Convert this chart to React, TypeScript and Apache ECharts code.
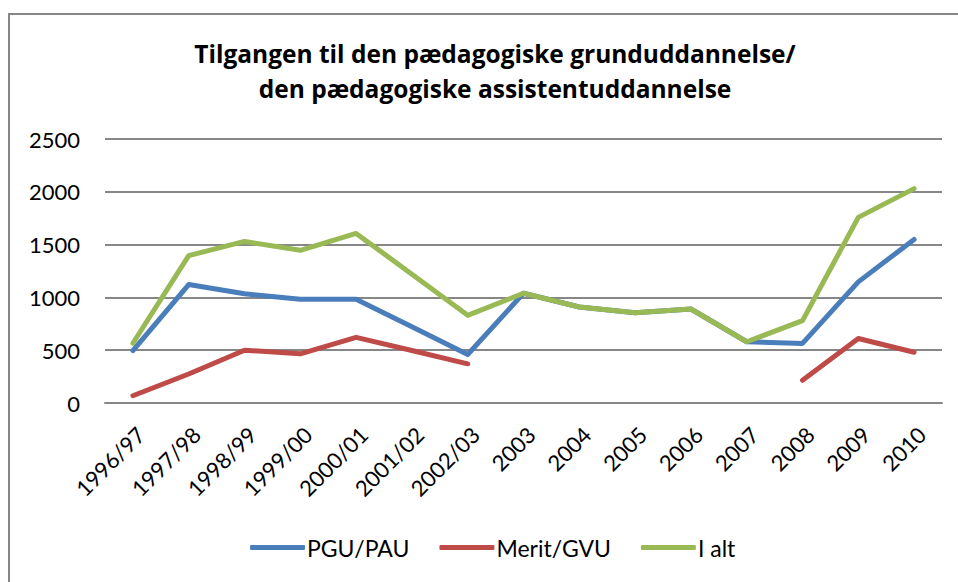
import React, { useEffect, useRef } from "react";
import * as echarts from "echarts";

const categories = ["1996/97", "1997/98", "1998/99", "1999/00", "2000/01", "2001/02", "2002/03", "2003", "2004", "2005", "2006", "2007", "2008", "2009", "2010"];
const pguPau = [497, 1122, 1034, 982, 982, 722, 459, 1039, 909, 855, 890, 580, 564, 1147, 1549];
const meritGvu = [69, 275, 500, 466, 622, 497, 371, null, null, null, null, null, 215, 611, 481];
const iAlt = [566, 1396, 1530, 1446, 1606, 1220, 830, 1039, 909, 855, 890, 580, 780, 1758, 2030];
const yTicks = [0, 500, 1000, 1500, 2000, 2500];

const FONT = "Lato, 'Open Sans', sans-serif";
const TITLE_FONT = "'Open Sans', Lato, sans-serif";

export default function App() {
  const ref = useRef<HTMLDivElement>(null);
  useEffect(() => {
    if (!ref.current) return;
    const chart = echarts.init(ref.current, undefined, { renderer: "svg" });
    chart.setOption({
      animation: false,
      backgroundColor: "#ffffff",
      textStyle: { fontFamily: FONT },
      title: {
        text: "Tilgangen til den pædagogiske grunduddannelse/\nden pædagogiske assistentuddannelse",
        left: 490,
        top: 31,
        textAlign: "center",
        textStyle: { fontFamily: TITLE_FONT, fontWeight: "bold", fontSize: 24.5, lineHeight: 35, color: "#000" },
      },
      graphic: [
        {
          type: "rect",
          shape: { x: 9, y: 14, width: 1000, height: 700 },
          style: { fill: "none", stroke: "#878787", lineWidth: 2 },
          silent: true,
          z: -1,
        },
      ],
      legend: {
        bottom: 18,
        left: 245,
        itemWidth: 55,
        itemHeight: 5,
        itemGap: 30,
        icon: "roundRect",
        textStyle: { fontFamily: FONT, fontSize: 23, color: "#000", padding: [0, 0, 0, -3] },
        data: ["PGU/PAU", "Merit/GVU", "I alt"],
      },
      grid: { left: 105, top: 139, width: 837, height: 264, containLabel: false },
      xAxis: {
        type: "category",
        data: categories,
        boundaryGap: true,
        axisLine: { lineStyle: { color: "#878787", width: 2 } },
        axisTick: { show: false },
        axisLabel: {
          rotate: 45,
          fontSize: 22,
          color: "#000",
          margin: 20,
          fontFamily: FONT,
          interval: 0,
          verticalAlign: "top",
        },
      },
      yAxis: {
        type: "value",
        min: yTicks[0],
        max: yTicks[yTicks.length - 1],
        interval: 500,
        axisLine: { show: false },
        axisTick: { show: false },
        splitLine: { lineStyle: { color: "#878787", width: 2 } },
        axisLabel: {
          fontSize: 22,
          color: "#000",
          margin: 25,
          fontFamily: FONT,
          formatter: (v: number) => String(v),
        },
      },
      series: [
        {
          name: "PGU/PAU",
          type: "line",
          data: pguPau,
          symbol: "none",
          lineStyle: { width: 5, color: "#4a7ebb", cap: "round", join: "round" },
          itemStyle: { color: "#4a7ebb" },
        },
        {
          name: "Merit/GVU",
          type: "line",
          data: meritGvu,
          symbol: "none",
          connectNulls: false,
          lineStyle: { width: 5, color: "#be4b48", cap: "round", join: "round" },
          itemStyle: { color: "#be4b48" },
        },
        {
          name: "I alt",
          type: "line",
          data: iAlt,
          symbol: "none",
          lineStyle: { width: 5, color: "#98b954", cap: "round", join: "round" },
          itemStyle: { color: "#98b954" },
        },
      ],
    });
    return () => chart.dispose();
  }, []);
  return <div ref={ref} style={{ position: "fixed", left: 0, top: 0, width: 958, height: 582 }} />;
}
